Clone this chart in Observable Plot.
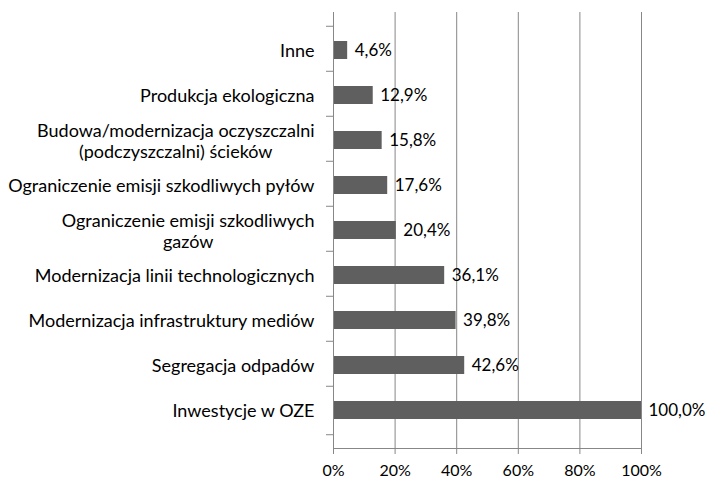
<!DOCTYPE html>
<html>
<head>
<meta charset="utf-8">
<script src="https://cdn.jsdelivr.net/npm/d3@7"></script>
<script src="https://cdn.jsdelivr.net/npm/@observablehq/plot@0.6"></script>
<style>
  html, body { margin: 0; padding: 0; background: #ffffff; }
  #chart svg { display: block; }
</style>
</head>
<body>
<div id="chart"></div>
<script>
const categories = [
  "Inne",
  "Produkcja ekologiczna",
  "Budowa/modernizacja oczyszczalni\n(podczyszczalni) ścieków",
  "Ograniczenie emisji szkodliwych pyłów",
  "Ograniczenie emisji szkodliwych\ngazów",
  "Modernizacja linii technologicznych",
  "Modernizacja infrastruktury mediów",
  "Segregacja odpadów",
  "Inwestycje w OZE"
];
const values = [4.6, 12.9, 15.8, 17.6, 20.4, 36.1, 39.8, 42.6, 100.0];
const xTicks = [0, 20, 40, 60, 80, 100];

const data = categories.map((c, i) => ({category: c, value: values[i]}));

const W = 707, H = 480, MT = 12, MB = 32, ML = 333, MR = 66;
const step = (H - MT - MB) / categories.length;
const gray = "#878787";

const chart = Plot.plot({
  width: W,
  height: H,
  marginTop: MT,
  marginBottom: MB,
  marginLeft: ML,
  marginRight: MR,
  style: {fontFamily: "Lato, 'Open Sans', sans-serif", fontSize: "18px", color: "#000", background: "#fff"},
  x: {domain: [0, 100], ticks: xTicks, label: null},
  y: {domain: categories, padding: 0.59, label: null},
  marks: [
    Plot.gridX(xTicks.slice(1), {stroke: gray, strokeOpacity: 1}),
    Plot.barX(data, {x: "value", y: "category", fill: "#5f5f5f"}),
    Plot.text(data, {
      x: "value", y: "category",
      text: d => d.value.toFixed(1).replace(".", ",") + "%",
      textAnchor: "start", dx: 7, fill: "#000", fontSize: 17
    }),
    Plot.ruleX([0], {stroke: gray}),
    Plot.frame({anchor: "bottom", stroke: gray}),
    Plot.axisY({ticks: categories, tickSize: 7, tickFormat: () => "", dy: -step / 2, stroke: gray}),
    Plot.axisY({ticks: categories.slice(-1), tickSize: 7, tickFormat: () => "", dy: step / 2, stroke: gray}),
    Plot.axisY({ticks: categories, tickSize: 0, tickPadding: 19, lineHeight: 1.2, fill: "#000", fontSize: 18}),
    Plot.axisX({ticks: xTicks, tickSize: 6, tickPadding: 10, stroke: gray, fill: "#000", fontSize: 16, tickFormat: d => d + "%"})
  ]
});

document.getElementById("chart").append(chart);

// centre the lines of wrapped category labels, as in the original
chart.querySelectorAll('g[aria-label="y-axis tick label"] text').forEach(t => {
  const spans = t.querySelectorAll("tspan");
  if (spans.length > 1) {
    let w = 0;
    spans.forEach(s => { w = Math.max(w, s.getComputedTextLength()); });
    t.setAttribute("text-anchor", "middle");
    const tr = t.getAttribute("transform") || "";
    t.setAttribute("transform", tr + ` translate(${-w / 2},0)`);
  }
});
</script>
</body>
</html>
